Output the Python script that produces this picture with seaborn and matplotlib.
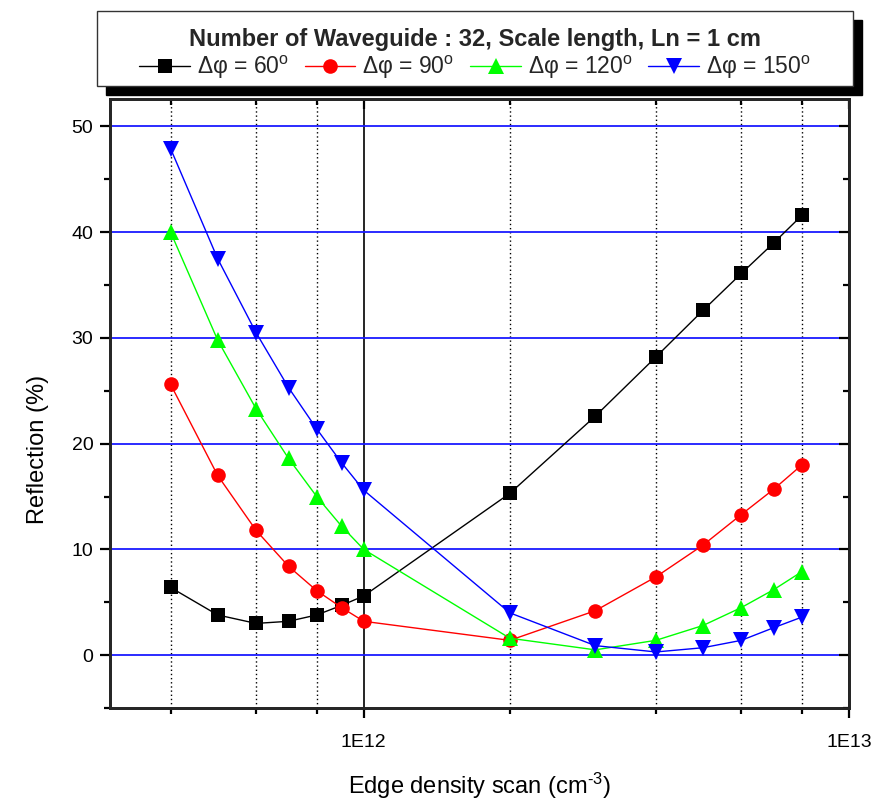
import matplotlib
matplotlib.use("Agg")
import numpy as np
import pandas as pd
import matplotlib.pyplot as plt
import matplotlib.ticker as mticker
from matplotlib.patches import Rectangle
from matplotlib.lines import Line2D
from matplotlib import font_manager as fm
import seaborn as sns

# Edge density scan points (cm^-3)
density = [4e11, 5e11, 6e11, 7e11, 8e11, 9e11, 1e12,
           2e12, 3e12, 4e12, 5e12, 6e12, 7e12, 8e12]

# Reflection (%) for each phase step between waveguides
refl_60 = [6.4, 3.8, 3.0, 3.2, 3.8, 4.7, 5.6, 15.3, 22.6, 28.2, 32.6, 36.1, 39.0, 41.6]
refl_90 = [25.6, 17.0, 11.8, 8.4, 6.1, 4.5, 3.2, 1.4, 4.2, 7.4, 10.4, 13.3, 15.7, 18.0]
refl_120 = [40.0, 29.8, 23.3, 18.6, 15.0, 12.2, 10.0, 1.6, 0.5, 1.4, 2.8, 4.5, 6.2, 7.9]
refl_150 = [47.9, 37.5, 30.5, 25.3, 21.4, 18.2, 15.6, 4.0, 0.9, 0.3, 0.7, 1.4, 2.6, 3.6]

phases = ["60", "90", "120", "150"]
series = [refl_60, refl_90, refl_120, refl_150]
colors = {"60": "#000000", "90": "#ff0000", "120": "#00ff00", "150": "#0000ff"}
markers = {"60": "s", "90": "o", "120": "^", "150": "v"}
msizes = {"60": 10, "90": 10.5, "120": 11.5, "150": 11.5}

legend_title = "Number of Waveguide : 32, Scale length, Ln = 1 cm"
x_label = "Edge density scan (cm$^{\\text{-3}}$)"
y_label = "Reflection (%)"

sns.set_theme(style="ticks")
installed = {f.name for f in fm.fontManager.ttflist}
base_font = "Liberation Sans" if "Liberation Sans" in installed else "DejaVu Sans"
narrow_font = "Liberation Sans Narrow" if "Liberation Sans Narrow" in installed else base_font
plt.rcParams["font.family"] = [base_font, "DejaVu Sans"]
plt.rcParams["mathtext.fontset"] = "custom"
plt.rcParams["mathtext.rm"] = base_font
plt.rcParams["mathtext.it"] = base_font + ":italic"
plt.rcParams["mathtext.bf"] = base_font + ":bold"

W, H = 878, 805
fig = plt.figure(figsize=(W / 100, H / 100), dpi=100)
fig.patch.set_facecolor("white")
ax = fig.add_axes([110 / W, 1 - 708 / H, (849 - 110) / W, (708 - 99) / H])
ax.set_facecolor("white")

df = pd.concat(
    [pd.DataFrame({"density": density, "reflection": vals, "phase": p})
     for p, vals in zip(phases, series)],
    ignore_index=True,
)

sns.lineplot(data=df, x="density", y="reflection", hue="phase", style="phase",
             hue_order=phases, style_order=phases, palette=colors,
             markers=markers, dashes=False, linewidth=1.0,
             markeredgewidth=0, legend=False, ax=ax, zorder=3)
for line, p in zip(ax.lines, phases):
    line.set_markersize(msizes[p])

ax.set_xscale("log")
ax.set_xlim(3e11, 1e13)
ax.set_ylim(-5, 52.6)

ax.xaxis.set_major_locator(mticker.FixedLocator([1e12, 1e13]))
ax.xaxis.set_major_formatter(
    mticker.FuncFormatter(lambda v, p: f"1E{int(round(np.log10(v)))}"))
ax.xaxis.set_minor_locator(mticker.LogLocator(base=10, subs=(2, 4, 6, 8)))
ax.xaxis.set_minor_formatter(mticker.NullFormatter())
ax.yaxis.set_major_locator(mticker.MultipleLocator(10))
ax.yaxis.set_minor_locator(mticker.MultipleLocator(5))

ax.set_axisbelow(True)
ax.grid(axis="y", which="major", color="#1a1aff", linewidth=1.3, linestyle="-")
ax.grid(axis="x", which="minor", color="#000000", linewidth=1.0, linestyle=(0, (1, 2)))
ax.grid(axis="x", which="major", color="#000000", linewidth=1.2, linestyle="-")

for s in ax.spines.values():
    s.set_linewidth(1.8)
    s.set_color("black")

ax.tick_params(which="both", direction="out", top=False, right=False,
               color="black", width=1.6, labelsize=14, labelcolor="black")
ax.tick_params(which="major", length=7)
ax.tick_params(axis="y", which="major", pad=5)
ax.tick_params(axis="x", which="major", pad=12)
ax.tick_params(which="minor", length=4.5)

ax.set_xlabel(x_label, fontsize=17, labelpad=14, color="black")
ax.set_ylabel(y_label, fontsize=17, color="black")
ax.yaxis.set_label_coords(-0.083, 0.424)

# inward ticks on the top and right edges
axt = ax.twiny()
axt.set_xscale("log")
axt.set_xlim(ax.get_xlim())
axt.xaxis.set_major_locator(mticker.FixedLocator([1e12, 1e13]))
axt.xaxis.set_minor_locator(mticker.LogLocator(base=10, subs=(2, 4, 6, 8)))
axt.tick_params(which="both", direction="in", labeltop=False, color="black", width=1.6)
axt.tick_params(which="major", length=7)
axt.tick_params(which="minor", length=4.5)
axr = ax.twinx()
axr.set_ylim(ax.get_ylim())
axr.yaxis.set_major_locator(mticker.MultipleLocator(10))
axr.yaxis.set_minor_locator(mticker.MultipleLocator(5))
axr.tick_params(which="both", direction="in", labelright=False, color="black", width=1.6)
axr.tick_params(which="major", length=7)
axr.tick_params(which="minor", length=4.5)
for a in (axt, axr):
    for s in a.spines.values():
        s.set_linewidth(1.8)

# legend box with a solid drop shadow
bx0, bx1, by0, by1 = 97, 853, 11, 86
shadow = Rectangle((bx0 + 9, H - by1 - 9), bx1 - bx0, by1 - by0,
                   transform=None, facecolor="black", edgecolor="black", zorder=1)
box = Rectangle((bx0, H - by1), bx1 - bx0, by1 - by0,
                transform=None, facecolor="white", edgecolor="#333333",
                linewidth=1.0, zorder=2)
fig.patches.extend([shadow, box])

handles = [Line2D([], [], color=colors[p], marker=markers[p], markersize=msizes[p],
                  markeredgewidth=0, linewidth=1.0) for p in phases]
labels = [f"Δφ = {p}$^{{\\mathregular{{o}}}}$" for p in phases]
leg = fig.legend(handles, labels, loc="center",
                 bbox_to_anchor=(bx0 / W, 1 - (by1 + 6) / H, (bx1 - bx0) / W, (by1 - by0) / H),
                 ncol=4, frameon=False, title=legend_title,
                 title_fontproperties={"family": narrow_font, "weight": "bold", "size": 17},
                 prop={"family": narrow_font, "size": 16.5},
                 handlelength=2.2, handletextpad=0.3, columnspacing=0.7,
                 borderpad=0.1, labelspacing=0.15)
leg.set_zorder(5)

fig.savefig("out.png", dpi=100, facecolor="white")
